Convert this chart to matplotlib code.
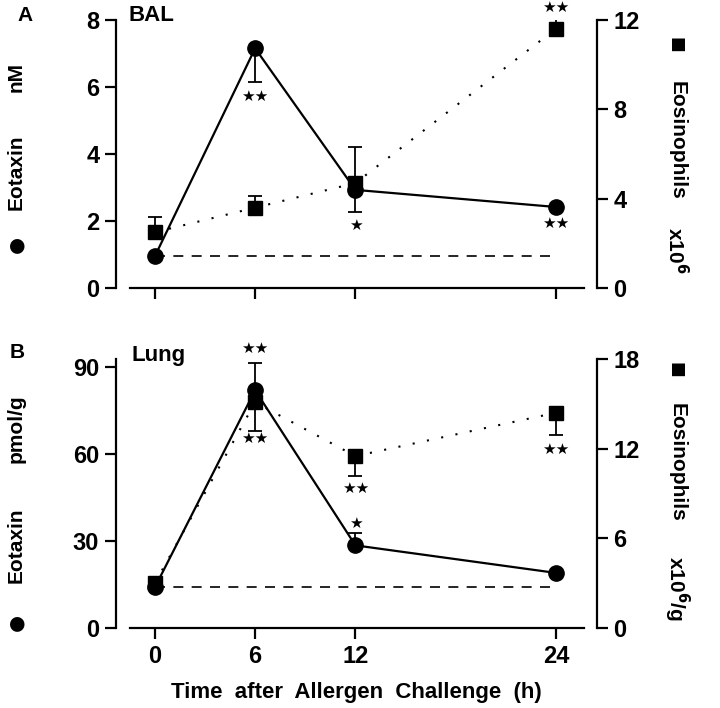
import numpy as np
import matplotlib
matplotlib.use('Agg')
import matplotlib.pyplot as plt

plt.rcParams['font.family'] = ['Liberation Sans', 'DejaVu Sans']
plt.rcParams['font.weight'] = 'bold'
plt.rcParams['axes.labelweight'] = 'bold'

# time points (h)
hours = [0, 6, 12, 24]

# panel A: BAL
bal_eotaxin = [0.95, 7.15, 2.93, 2.42]          # nM
bal_eotaxin_lo = [0, 1.0, 0.65, 0]
bal_eotaxin_hi = [0, 0, 0, 0]
bal_eos = [2.5, 3.6, 4.7, 11.6]                 # x10^6
bal_eos_lo = [0, 0, 0, 0]
bal_eos_hi = [0.7, 0.5, 1.6, 0.45]
bal_baseline = 0.95

# panel B: Lung
lung_eotaxin = [14.0, 82.0, 28.5, 19.0]         # pmol/g
lung_eotaxin_lo = [0, 0, 0, 0]
lung_eotaxin_hi = [0, 9.5, 4.2, 0]
lung_eos = [3.0, 15.1, 11.5, 14.4]              # x10^6/g
lung_eos_lo = [0, 1.9, 1.3, 1.5]
lung_eos_hi = [0, 0, 0, 0]
lung_baseline = 14.0

# significance marks: (x, y on left axis, text)
bal_stars = [(6, 5.72, '★★'), (12, 1.88, '★'), (24, 1.94, '★★'), (24, 8.38, '★★')]
lung_stars = [(6, 96.5, '★★'), (6, 65.5, '★★'), (12, 48.0, '★★'), (12, 36.2, '★'), (24, 61.5, '★★')]


def panel(ax, eot, eot_lo, eot_hi, eos, eos_lo, eos_hi, base, ylim_l, yticks_l, ylim_r, yticks_r, stars):
    ax2 = ax.twinx()
    ax.set_zorder(ax2.get_zorder() + 1)
    ax.patch.set_visible(False)

    ax.set_xlim(-2.33, 26.45)
    ax.set_ylim(*ylim_l)
    ax2.set_ylim(*ylim_r)

    # eosinophils (right axis)
    ax2.errorbar(hours, eos, yerr=[eos_lo, eos_hi], fmt='none', ecolor='black',
                 elinewidth=1.3, capsize=5, capthick=1.3)
    ax2.plot(hours, eos, color='black', linestyle=(0, (1, 6)), linewidth=1.5,
             marker='s', markersize=10)

    # eotaxin (left axis)
    ax.plot([0, 24], [base, base], color='black', linestyle=(0, (6, 5)), linewidth=1.2)
    ax.errorbar(hours, eot, yerr=[eot_lo, eot_hi], fmt='none', ecolor='black',
                elinewidth=1.3, capsize=5, capthick=1.3)
    ax.plot(hours, eot, color='black', linewidth=1.6, marker='o', markersize=11)

    for x, y, s in stars:
        ax.text(x, y, s, ha='center', va='center', fontsize=11, family='DejaVu Sans')

    for a in (ax, ax2):
        a.spines['top'].set_visible(False)
        for sp in a.spines.values():
            sp.set_linewidth(1.6)
        a.tick_params(width=1.6, length=8, labelsize=17, pad=4)
    ax.spines['right'].set_visible(False)
    ax2.spines['left'].set_visible(False)
    ax2.spines['bottom'].set_visible(False)
    ax.spines['bottom'].set_bounds(-1.5, 25.7)
    ax.set_xticks(hours)
    ax.set_yticks(yticks_l)
    ax2.set_yticks(yticks_r)
    for lab in ax.get_xticklabels() + ax.get_yticklabels() + ax2.get_yticklabels():
        lab.set_fontweight('bold')
    return ax2


fig = plt.figure(figsize=(7.2, 7.08), dpi=100)
axA = fig.add_axes([0.161, 0.593, 0.668, 0.379])
axB = fig.add_axes([0.161, 0.113, 0.668, 0.380])

panel(axA, bal_eotaxin, bal_eotaxin_lo, bal_eotaxin_hi, bal_eos, bal_eos_lo, bal_eos_hi,
      bal_baseline, (0, 8), [0, 2, 4, 6, 8], (0, 12), [0, 4, 8, 12], bal_stars)
panel(axB, lung_eotaxin, lung_eotaxin_lo, lung_eotaxin_hi, lung_eos, lung_eos_lo, lung_eos_hi,
      lung_baseline, (0, 92.8), [0, 30, 60, 90], (0, 18), [0, 6, 12, 18], lung_stars)

axA.tick_params(axis='x', labelbottom=False)
axB.set_xlabel('Time  after  Allergen  Challenge  (h)', fontsize=16, fontweight='bold', labelpad=10)

# panel letters and titles
fig.text(0.035, 0.978, 'A', fontsize=15, fontweight='bold', ha='center', va='center')
fig.text(0.210, 0.978, 'BAL', fontsize=16, fontweight='bold', ha='center', va='center')
fig.text(0.024, 0.502, 'B', fontsize=15, fontweight='bold', ha='center', va='center')
fig.text(0.220, 0.498, 'Lung', fontsize=16, fontweight='bold', ha='center', va='center')

# axis labels, built from pieces
lx, rx = 0.022, 0.940
pieces = [
    (lx, 0.654, '●', 90, 'DejaVu Sans', 14),
    (lx, 0.757, 'Eotaxin', 90, 'Liberation Sans', 15),
    (lx, 0.891, 'nM', 90, 'Liberation Sans', 15),
    (rx, 0.936, '■', -90, 'DejaVu Sans', 12),
    (rx, 0.802, 'Eosinophils', -90, 'Liberation Sans', 15),
    (rx, 0.647, 'x10$^{\\mathbf{6}}$', -90, 'Liberation Sans', 15),
    (lx, 0.121, '●', 90, 'DejaVu Sans', 14),
    (lx, 0.230, 'Eotaxin', 90, 'Liberation Sans', 15),
    (lx, 0.395, 'pmol/g', 90, 'Liberation Sans', 15),
    (rx, 0.477, '■', -90, 'DejaVu Sans', 12),
    (rx, 0.347, 'Eosinophils', -90, 'Liberation Sans', 15),
    (rx, 0.169, 'x10$^{\\mathbf{6}}$/g', -90, 'Liberation Sans', 15),
]
for x, y, s, rot, fam, fs in pieces:
    fig.text(x, y, s, rotation=rot, fontsize=fs, fontweight='bold', family=fam,
             ha='center', va='center', rotation_mode='anchor')

fig.savefig('out.png', dpi=100)
